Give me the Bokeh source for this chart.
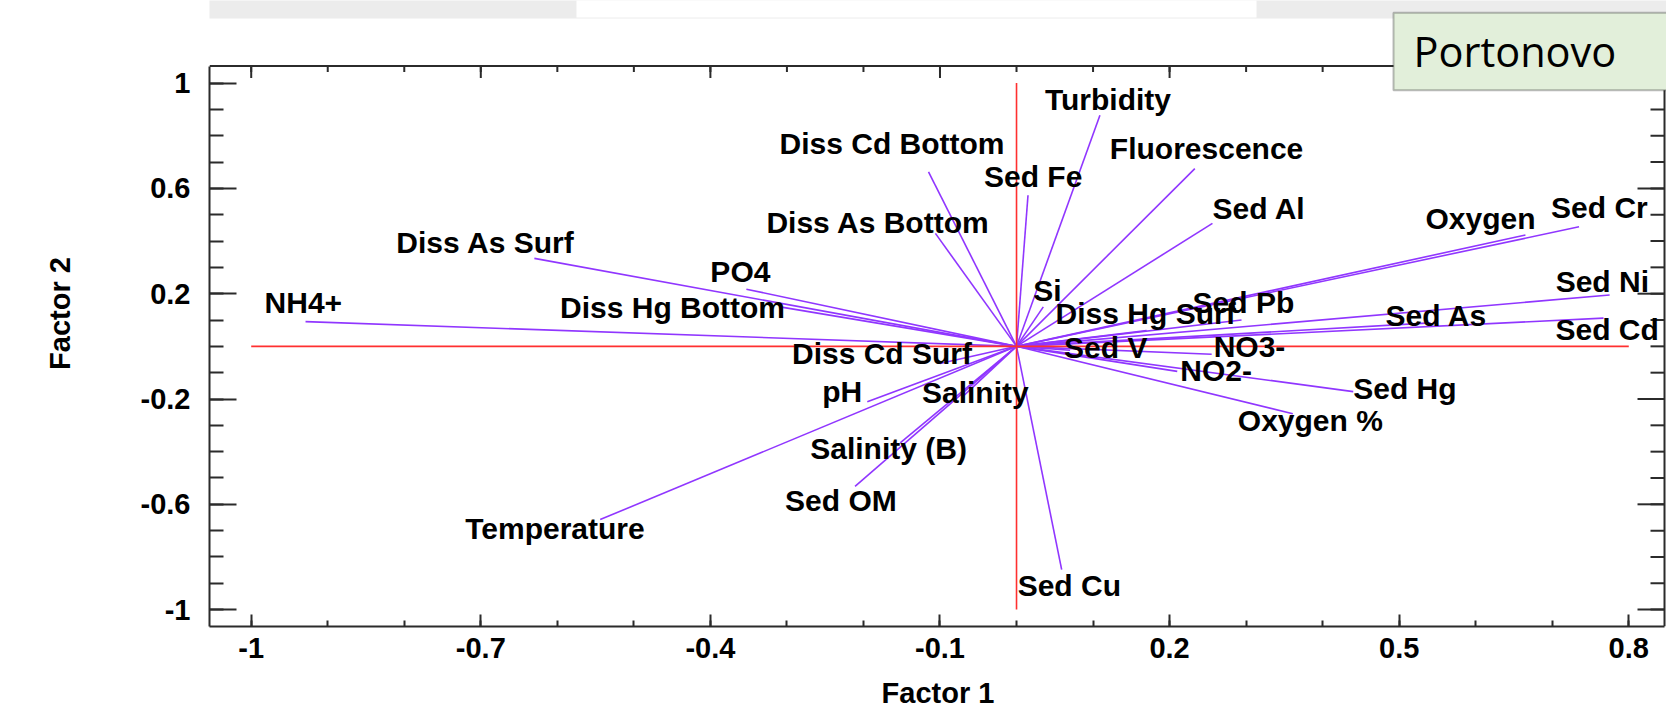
import numpy as np
from bokeh.plotting import figure
from bokeh.models import (ColumnDataSource, FixedTicker, Range1d,
                          BoxAnnotation, Label, NumeralTickFormatter)
from bokeh.core.properties import value
from bokeh.embed import file_html
from bokeh.resources import INLINE

# ---------------- data (factor loadings) ----------------
VARIABLES = ["NH4+", "Diss As Surf", "PO4", "Diss Hg Bottom", "Diss Cd Bottom",
             "Diss As Bottom", "Sed Fe", "Turbidity", "Fluorescence", "Sed Al",
             "Oxygen", "Sed Cr", "Sed Ni", "Sed Cd", "Sed As", "Sed Pb",
             "Diss Hg Surf", "Si", "Sed V", "NO3-", "NO2-", "Sed Hg", "Oxygen %",
             "Diss Cd Surf", "pH", "Salinity", "Salinity (B)", "Sed OM",
             "Temperature", "Sed Cu"]
FACTOR_1 = [-0.929, -0.630, -0.353, -0.309, -0.115,
            -0.106, 0.015, 0.109, 0.233, 0.256,
            0.665, 0.735, 0.775, 0.767, 0.541, 0.294,
            0.170, 0.035, 0.070, 0.255, 0.210, 0.440, 0.361,
            -0.100, -0.195, -0.070, -0.152, -0.211,
            -0.544, 0.059]
FACTOR_2 = [0.094, 0.334, 0.217, 0.150, 0.663,
            0.429, 0.574, 0.878, 0.675, 0.467,
            0.423, 0.454, 0.195, 0.107, 0.089, 0.100,
            0.060, 0.150, -0.015, -0.030, -0.095, -0.172, -0.256,
            -0.065, -0.210, -0.190, -0.367, -0.532,
            -0.658, -0.848]

# label placement relative to the vector tip (pixels, +x right, +y down)
LABEL_DX = [-41, -138, -36, -220, -149,
            -169, -44, -55, -85, 0,
            -100, -28, -54, -48, -45, -49,
            -91, -10, -6, 2, 3, 0, -55,
            -148, -45, -41, -90, -70,
            -135, -44]
LABEL_DY = [-19, -16, -18, 1, -28,
            -11, -19, -16, -20, -15,
            -16, -19, -14, 11, -7, -18,
            -17, -16, -3, -8, -1, -3, 7,
            -10, -10, -4, 6, 14,
            9, 16]

X_MAJOR = [-1, -0.7, -0.4, -0.1, 0.2, 0.5, 0.8]
Y_MAJOR = [-1, -0.6, -0.2, 0.2, 0.6, 1]
X_MINOR = [round(v, 1) for v in np.arange(-1.0, 0.81, 0.1)]
Y_MINOR = [round(v, 1) for v in np.arange(-1.0, 1.01, 0.1)]
REF_X = [-1, 0.8]      # red reference axis along Factor 1
REF_Y = [-1, 1]        # red reference axis along Factor 2
BOX_X = (-1.0545, 0.8467)   # extent of the boxed plotting area
BOX_Y = (-1.0641, 1.0645)
TITLE_TEXT = "Portonovo"

# ---------------- styling ----------------
AXIS_COLOR = "#2b2b2b"
VEC_COLOR = "#9036ff"
REF_COLOR = "#ff3030"
FONT = "Liberation Sans"
TICK_SIZE = "29px"
LABEL_SIZE = "30px"

p = figure(width=1666, height=711,
           x_range=Range1d(BOX_X[0], 0.8493), y_range=Range1d(BOX_Y[0], 1.3136),
           output_backend="svg", toolbar_location=None,
           min_border_left=209, min_border_right=0,
           min_border_top=0, min_border_bottom=84,
           background_fill_color="white", border_fill_color="white",
           outline_line_color=None)
p.xgrid.visible = False
p.ygrid.visible = False

# screenshot-like band at the top
p.add_layout(BoxAnnotation(left=-300, right=2500, top=800, bottom=608,
                           left_units="screen", right_units="screen",
                           top_units="screen", bottom_units="screen",
                           fill_color="#ececec", fill_alpha=1.0, line_color=None,
                           level="underlay"))
p.add_layout(BoxAnnotation(left=367, right=1047, top=800, bottom=609,
                           left_units="screen", right_units="screen",
                           top_units="screen", bottom_units="screen",
                           fill_color="white", fill_alpha=1.0, line_color=None,
                           level="underlay"))

xt = FixedTicker(ticks=X_MAJOR, minor_ticks=X_MINOR)
yt = FixedTicker(ticks=Y_MAJOR, minor_ticks=Y_MINOR)
bottom = p.xaxis[0]
left = p.yaxis[0]
bottom.bounds = BOX_X
left.bounds = BOX_Y

for ax, tk, mj, mn in [(bottom, xt, 12, 6), (left, yt, 27, 14)]:
    ax.ticker = tk
    ax.formatter = NumeralTickFormatter(format="0.[0]")
    ax.axis_line_color = AXIS_COLOR
    ax.axis_line_width = 2
    ax.major_tick_in = mj
    ax.major_tick_out = 0
    ax.minor_tick_in = mn
    ax.minor_tick_out = 0
    ax.major_tick_line_color = AXIS_COLOR
    ax.major_tick_line_width = 2
    ax.minor_tick_line_color = AXIS_COLOR
    ax.minor_tick_line_width = 2
    ax.major_label_text_font = FONT
    ax.major_label_text_font_style = "bold"
    ax.major_label_text_font_size = TICK_SIZE
    ax.major_label_text_color = "black"
    ax.axis_label_text_font = FONT
    ax.axis_label_text_font_style = "bold"
    ax.axis_label_text_font_size = TICK_SIZE
    ax.axis_label_text_color = "black"

bottom.axis_label = "Factor 1"
bottom.major_label_standoff = 11
bottom.axis_label_standoff = 16
left.axis_label = "Factor 2"
left.major_label_standoff = 19
left.axis_label_standoff = 62

# top and right sides of the box, with inward ticks
p.segment(x0=[BOX_X[0], BOX_X[1]], y0=[BOX_Y[1], BOX_Y[0]],
          x1=[BOX_X[1], BOX_X[1]], y1=[BOX_Y[1], BOX_Y[1]],
          line_color=AXIS_COLOR, line_width=2)
p.ray(x=X_MAJOR, y=[BOX_Y[1]] * len(X_MAJOR), length=12, length_units="screen",
      angle=-np.pi / 2, line_color=AXIS_COLOR, line_width=2)
p.ray(x=X_MINOR, y=[BOX_Y[1]] * len(X_MINOR), length=6, length_units="screen",
      angle=-np.pi / 2, line_color=AXIS_COLOR, line_width=2)
p.ray(x=[BOX_X[1]] * len(Y_MAJOR), y=Y_MAJOR, length=27, length_units="screen",
      angle=np.pi, line_color=AXIS_COLOR, line_width=2)
p.ray(x=[BOX_X[1]] * len(Y_MINOR), y=Y_MINOR, length=14, length_units="screen",
      angle=np.pi, line_color=AXIS_COLOR, line_width=2)

# vectors
src = ColumnDataSource(dict(x0=[0] * len(VARIABLES), y0=[0] * len(VARIABLES),
                            f1=FACTOR_1, f2=FACTOR_2, name=VARIABLES,
                            dx=LABEL_DX, dy=LABEL_DY))
p.segment(x0="x0", y0="y0", x1="f1", y1="f2", source=src,
          line_color=VEC_COLOR, line_width=1.6)

# red reference axes
p.segment(x0=[REF_X[0], 0], y0=[0, REF_Y[0]], x1=[REF_X[1], 0], y1=[0, REF_Y[1]],
          line_color=REF_COLOR, line_width=1.6)

# labels
p.text(x="f1", y="f2", text="name", x_offset="dx", y_offset="dy", source=src,
       text_font=value(FONT), text_font_style="bold", text_font_size=value(LABEL_SIZE),
       text_color="black", text_align="left", text_baseline="alphabetic")

# Portonovo box
p.add_layout(BoxAnnotation(left=1184, right=2500, top=613.7, bottom=536.3,
                           left_units="screen", right_units="screen",
                           top_units="screen", bottom_units="screen",
                           fill_color="#e2efda", fill_alpha=1.0,
                           line_color="#222222", line_width=2, level="overlay"))
p.add_layout(Label(x=1204, y=576, x_units="screen", y_units="screen",
                   text=TITLE_TEXT, text_font="Open Sans", text_font_size="41.5px",
                   text_color="black", text_baseline="alphabetic", level="overlay"))

open("out.html", "w").write(file_html(p, INLINE))
